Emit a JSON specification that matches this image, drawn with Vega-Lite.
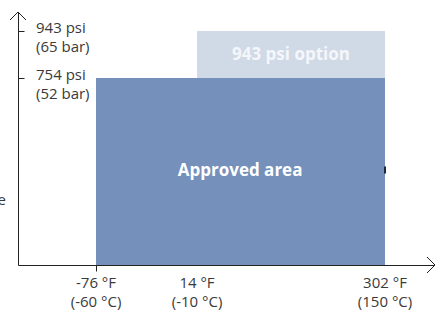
{
  "$schema": "https://vega.github.io/schema/vega-lite/v6.json",
  "width": 417,
  "height": 253,
  "autosize": {"type": "none"},
  "padding": {"left": 18, "top": 12, "right": 0, "bottom": 48},
  "background": "white",
  "config": {"view": {"stroke": null}, "font": "Open Sans"},
  "data": {"values": [
    {"kind": "rect", "cat": "approved", "x": -76, "x2": 302, "y": 0, "y2": 754},
    {"kind": "rect", "cat": "option", "x": 14, "x2": 302, "y": 754, "y2": 943},
    {"kind": "rectlabel", "label": "Approved area", "x": 80, "y": 377, "c": "#ffffff"},
    {"kind": "rectlabel", "label": "943 psi option", "x": 158, "y": 848, "c": "#f4f6fa"},
    {"kind": "ylabel", "label": "943 psi|(65 bar)", "x": -200, "y": 943},
    {"kind": "ylabel", "label": "754 psi|(52 bar)", "x": -200, "y": 754},
    {"kind": "xlabel", "label": "-76 °F|(-60 °C)", "x": -76, "y": 0},
    {"kind": "xlabel", "label": "14 °F|(-10 °C)", "x": 14, "y": 0},
    {"kind": "xlabel", "label": "302 °F|(150 °C)", "x": 302, "y": 0},
    {"kind": "arrowup", "x": -200, "y": 1020},
    {"kind": "arrowright", "x": 400, "y": 0},
    {"kind": "title", "label": "Pressure", "x": -200, "y": 262},
    {"kind": "nub", "x": 302, "y": 383}
  ]},
  "encoding": {
    "x": {"field": "x", "type": "quantitative",
      "scale": {"domain": [-200, -76, 14, 302, 400], "range": [0, 78, 179, 367, 417], "nice": false, "zero": false},
      "axis": {"title": null, "values": [-76], "labels": false, "grid": false, "domainColor": "#222222", "tickColor": "#222222", "tickSize": 6}},
    "y": {"field": "y", "type": "quantitative",
      "scale": {"domain": [0, 1020], "nice": false, "zero": false},
      "axis": {"title": null, "values": [754, 943], "labels": false, "grid": false, "domainColor": "#222222", "tickColor": "#222222", "tickSize": -6}}
  },
  "layer": [
    {
      "transform": [{"filter": "datum.kind === 'rect'"}],
      "mark": {"type": "rect"},
      "encoding": {
        "x2": {"field": "x2"},
        "y2": {"field": "y2"},
        "color": {"field": "cat", "type": "nominal", "scale": {"domain": ["approved", "option"], "range": ["#7490bb", "#d0d9e6"]}, "legend": null}
      }
    },
    {
      "transform": [{"filter": "datum.kind === 'nub'"}],
      "mark": {"type": "tick", "orient": "vertical", "size": 7, "thickness": 2, "color": "#1c2840", "opacity": 1}
    },
    {
      "transform": [{"filter": "datum.kind === 'rectlabel'"}],
      "mark": {"type": "text", "fontSize": 17, "fontWeight": "bold", "align": "center", "baseline": "middle"},
      "encoding": {
        "text": {"field": "label"},
        "color": {"field": "c", "type": "nominal", "scale": null}
      }
    },
    {
      "transform": [{"filter": "datum.kind === 'ylabel'"}],
      "mark": {"type": "text", "fontSize": 15, "align": "left", "baseline": "middle", "dx": 18, "dy": -3, "lineBreak": "|", "lineHeight": 19, "color": "#3a3a3a"},
      "encoding": {"text": {"field": "label"}}
    },
    {
      "transform": [{"filter": "datum.kind === 'xlabel'"}],
      "mark": {"type": "text", "fontSize": 15, "align": "center", "baseline": "top", "dy": 11, "lineBreak": "|", "lineHeight": 19, "color": "#3a3a3a"},
      "encoding": {"text": {"field": "label"}}
    },
    {
      "transform": [{"filter": "datum.kind === 'title'"}],
      "mark": {"type": "text", "fontSize": 15, "align": "right", "baseline": "middle", "dx": -12, "color": "#3a3a3a"},
      "encoding": {"text": {"field": "label"}}
    },
    {
      "transform": [{"filter": "datum.kind === 'arrowup'"}],
      "mark": {"type": "point", "shape": "M-1,1L0,0L1,1", "size": 256, "filled": false, "stroke": "#222222", "strokeWidth": 1, "opacity": 1}
    },
    {
      "transform": [{"filter": "datum.kind === 'arrowright'"}],
      "mark": {"type": "point", "shape": "M-1,-1L0,0L-1,1", "size": 256, "filled": false, "stroke": "#222222", "strokeWidth": 1, "opacity": 1}
    }
  ]
}
